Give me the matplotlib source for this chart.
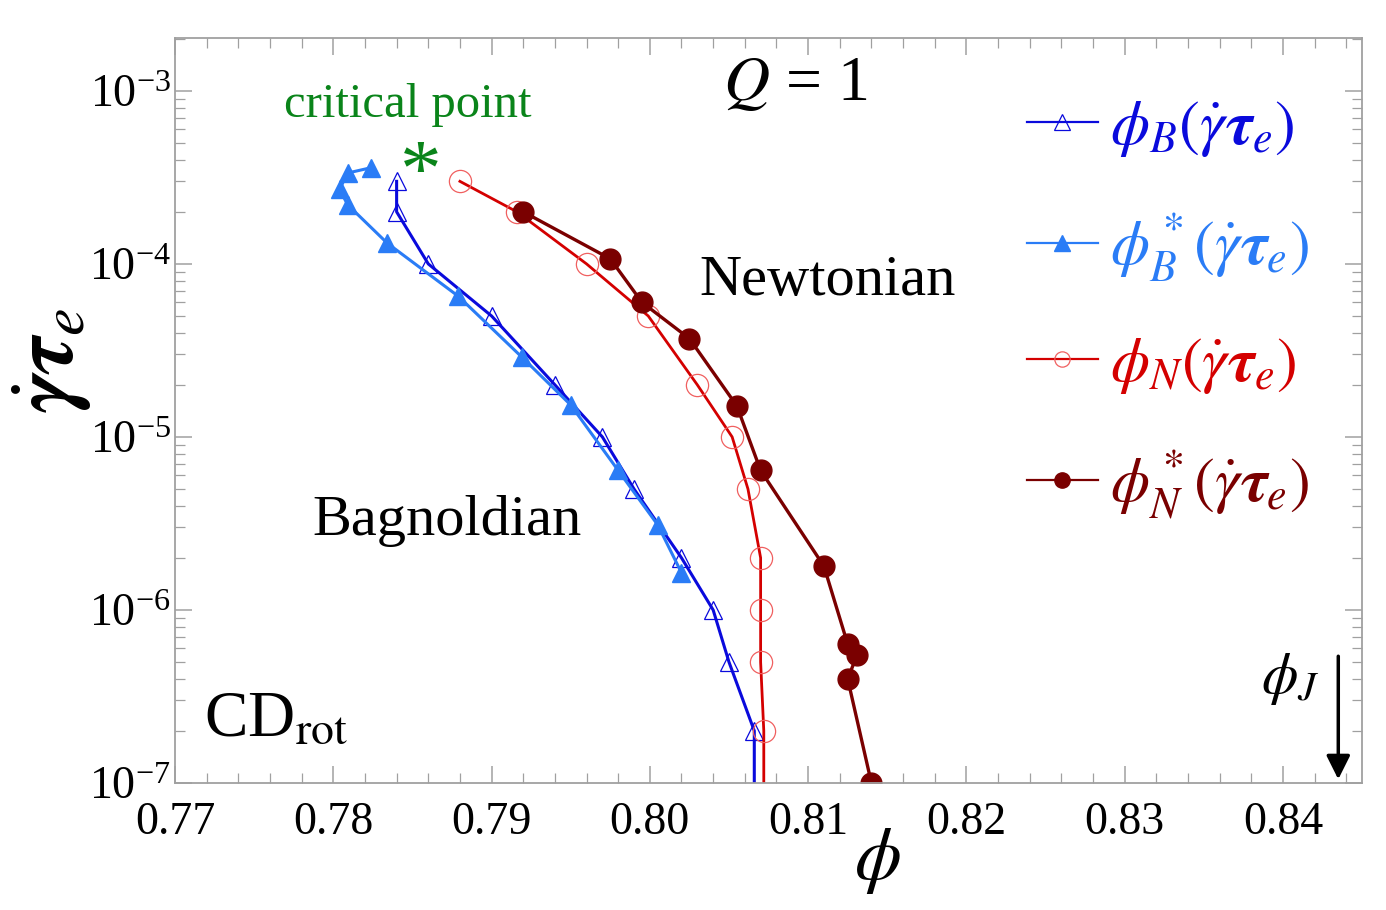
"""Q = 1 phase diagram: Bagnoldian / Newtonian boundaries in (phi, gamma_dot tau_e)."""

import matplotlib

matplotlib.use("Agg")
import matplotlib.pyplot as plt
from matplotlib.ticker import MultipleLocator

plt.rcParams["font.family"] = ["Liberation Serif", "DejaVu Serif"]
plt.rcParams["mathtext.fontset"] = "stix"

# phi_B (open triangles)
phi_b = [0.784, 0.784, 0.786, 0.790, 0.794, 0.797, 0.799, 0.802, 0.804, 0.805, 0.8066, 0.8066]
rate_b = [3e-4, 2e-4, 1e-4, 5e-5, 2e-5, 1e-5, 5e-6, 2e-6, 1e-6, 5e-7, 2e-7, 5e-8]

# phi_B* (filled triangles)
phi_bs = [0.7824, 0.7809, 0.7804, 0.7809, 0.7834, 0.7879, 0.7919, 0.7950, 0.7980, 0.8005, 0.8020]
rate_bs = [3.6e-4, 3.35e-4, 2.7e-4, 2.2e-4, 1.32e-4, 6.5e-5, 2.9e-5, 1.53e-5, 6.4e-6, 3.1e-6, 1.64e-6]

# phi_N (open circles)
phi_n = [0.7880, 0.7916, 0.7960, 0.7999, 0.8030, 0.8052, 0.8062, 0.8070, 0.8070, 0.8070, 0.8072, 0.8072]
rate_n = [3e-4, 2e-4, 1e-4, 5e-5, 2e-5, 1e-5, 5e-6, 2e-6, 1e-6, 5e-7, 2e-7, 5e-8]

# phi_N* (filled circles)
phi_ns = [0.7920, 0.7975, 0.7995, 0.8025, 0.8055, 0.8070, 0.8110, 0.8125, 0.8131, 0.8125, 0.8140]
rate_ns = [2e-4, 1.07e-4, 6e-5, 3.7e-5, 1.51e-5, 6.4e-6, 1.79e-6, 6.35e-7, 5.5e-7, 4e-7, 1e-7]

crit_phi, crit_rate = 0.7855, 3.2e-4
phi_j = 0.8435

C_B = "#0a0adc"
C_BS = "#2a7cf6"
C_N = "#d40000"
C_NS = "#7a0000"
C_CRIT = "#0a841a"

fig = plt.figure(figsize=(13.86, 9.10), dpi=100)
ax = fig.add_axes([0.1263, 0.1396, 0.8564, 0.8186])

ax.plot(phi_b, rate_b, "-", color=C_B, lw=2.2, marker="^", ms=13, mfc="none",
        mec=C_B, mew=0.9, label=r"$\phi_B(\dot{\gamma}\boldsymbol{\tau}_e)$")
ax.plot(phi_bs, rate_bs, "-", color=C_BS, lw=2.2, marker="^", ms=13, mfc=C_BS,
        mec=C_BS, label=r"$\phi_B^*(\dot{\gamma}\boldsymbol{\tau}_e)$")
ax.plot(phi_n, rate_n, "-", color=C_N, lw=2.0, marker="o", ms=16, mfc="none",
        mec="#f06060", mew=0.9, label=r"$\phi_N(\dot{\gamma}\boldsymbol{\tau}_e)$")
ax.plot(phi_ns, rate_ns, "-", color=C_NS, lw=2.4, marker="o", ms=15, mfc=C_NS,
        mec=C_NS, label=r"$\phi_N^*(\dot{\gamma}\boldsymbol{\tau}_e)$")

ax.set_yscale("log")
ax.set_xlim(0.77, 0.845)
ax.set_ylim(1e-7, 2.02e-3)
ax.xaxis.set_major_locator(MultipleLocator(0.01))
ax.xaxis.set_minor_locator(MultipleLocator(0.002))
ax.xaxis.set_major_formatter(lambda v, p: f"{v:.2f}")

for s in ax.spines.values():
    s.set_color("#a0a0a0")
    s.set_linewidth(1.3)
ax.tick_params(which="both", direction="in", top=True, right=True,
               color="#a0a0a0", labelsize=33, pad=3)
ax.tick_params(axis="x", which="major", pad=13)
ax.tick_params(which="major", length=12, width=1.1)
ax.tick_params(which="minor", length=7, width=0.9)

ax.set_xlabel(r"$\phi$", fontsize=54)
ax.xaxis.set_label_coords(0.592, -0.058)
fig.text(0.0375, 0.604, r"$\dot{\boldsymbol{\gamma}}\boldsymbol{\tau}_e$", fontsize=64,
         rotation=90, ha="center", va="center")

ax.text(0.7847, 8.3e-4, "critical point", color=C_CRIT, fontsize=35,
        ha="center", va="center")
ax.text(crit_phi, crit_rate, "*", color=C_CRIT, fontsize=60,
        ha="center", va="center")
ax.text(0.8092, 1.08e-3, r"$Q$ = 1", fontsize=46, ha="center", va="center")
ax.text(0.8112, 8.0e-5, "Newtonian", fontsize=42, ha="center", va="center")
ax.text(0.7872, 3.27e-6, "Bagnoldian", fontsize=42, ha="center", va="center")
ax.text(0.7718, 2.3e-7, r"CD$_{\mathrm{rot}}$", fontsize=47, ha="left", va="center")
ax.text(0.8405, 4.0e-7, r"$\phi_J$", fontsize=42, ha="center", va="center")
ax.annotate("", xy=(phi_j, 1.05e-7), xytext=(phi_j, 5.4e-7),
            arrowprops=dict(arrowstyle="-|>", color="k", lw=2.5,
                            mutation_scale=36, shrinkA=0, shrinkB=0))

leg = ax.legend(loc="upper right", bbox_to_anchor=(0.976, 0.952), frameon=False,
                fontsize=45, labelcolor="linecolor", handlelength=1.15,
                handletextpad=0.18, labelspacing=0.83, borderaxespad=0)
for h in leg.legend_handles:
    h.set_linewidth(1.6)
    h.set_markersize(11)

fig.savefig("out.png", dpi=100)
